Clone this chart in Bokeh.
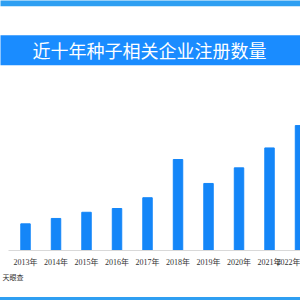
from bokeh.plotting import figure
from bokeh.models import Range1d, FixedTicker, BoxAnnotation, Label, Title
from bokeh.embed import file_html
from bokeh.resources import INLINE

years = [2013, 2014, 2015, 2016, 2017, 2018, 2019, 2020, 2021, 2022]
year_labels = ["2013年", "2014年", "2015年", "2016年", "2017年", "2018年", "2019年", "2020年", "2021年", "2022年"]
counts = [990, 1190, 1420, 1560, 1960, 3380, 2490, 3070, 3810, 4640]
y_ticks = [0, 1000, 2000, 3000, 4000, 5000]
title_text = "近十年种子相关企业注册数量"
source_text = "天眼查"

BLUE = "#1486f8"
BANNER = "#1a8cff"
LINE = "#2e9ff2"
SERIF = "Liberation Serif, Noto Sans CJK SC"
SANS = "Noto Sans CJK SC"

# frame spans the whole window width (x 0..300), bars 30.5 px apart, 2013 at x=25
p = figure(width=330, height=297, output_backend="svg", toolbar_location=None,
           x_range=Range1d(2012.180, 2022.016), y_range=Range1d(0, 9286),
           min_border_left=30, min_border_right=0, min_border_top=0, min_border_bottom=50)
p.margin = (0, 0, 0, -30)
p.styles = {"border-bottom": f"3px solid {LINE}", "box-sizing": "content-box"}
p.outline_line_color = None
p.background_fill_color = "white"
p.border_fill_color = "white"
p.xgrid.visible = False
p.ygrid.visible = False

p.vbar(x=years, top=counts, width=0.31, color=BLUE)

p.xaxis.ticker = FixedTicker(ticks=years)
p.xaxis.bounds = (2012.44, 2022.1)
p.xaxis.major_label_overrides = {y: l for y, l in zip(years, year_labels)}
p.xaxis.major_tick_line_color = None
p.xaxis.minor_tick_line_color = None
p.xaxis.axis_line_color = "#d9d9d9"
p.xaxis.major_label_standoff = 1
p.xaxis.major_label_text_font = SERIF
p.xaxis.major_label_text_font_size = "8px"
p.xaxis.major_label_text_color = "#333333"

p.yaxis.ticker = FixedTicker(ticks=y_ticks)
p.yaxis.major_tick_line_color = None
p.yaxis.minor_tick_line_color = None
p.yaxis.axis_line_color = None
p.yaxis.major_label_standoff = -3
p.yaxis.major_label_text_font = SERIF
p.yaxis.major_label_text_font_size = "8px"
p.yaxis.major_label_text_color = "#333333"

src = Title(text=source_text, align="left", text_font=SANS, text_font_size="7px",
            text_color="#333333", text_font_style="normal", offset=2, standoff=1)
p.add_layout(src, "below")

# decorative top line and banner (screen units, relative to the frame)
p.add_layout(BoxAnnotation(left=-60, right=400, bottom=244.3, top=260,
                           left_units="screen", right_units="screen",
                           top_units="screen", bottom_units="screen",
                           fill_color=LINE, fill_alpha=1, line_color=None))
p.add_layout(BoxAnnotation(left=-60, right=400, bottom=185.3, top=215.3,
                           left_units="screen", right_units="screen",
                           top_units="screen", bottom_units="screen",
                           fill_color=BANNER, fill_alpha=1, line_color=None))
p.add_layout(Label(x=149, y=200.3, x_units="screen", y_units="screen", text=title_text,
                   text_align="center", text_baseline="middle", text_color="white",
                   text_font=SANS, text_font_size="18px"))

open("out.html", "w").write(file_html(p, INLINE))
